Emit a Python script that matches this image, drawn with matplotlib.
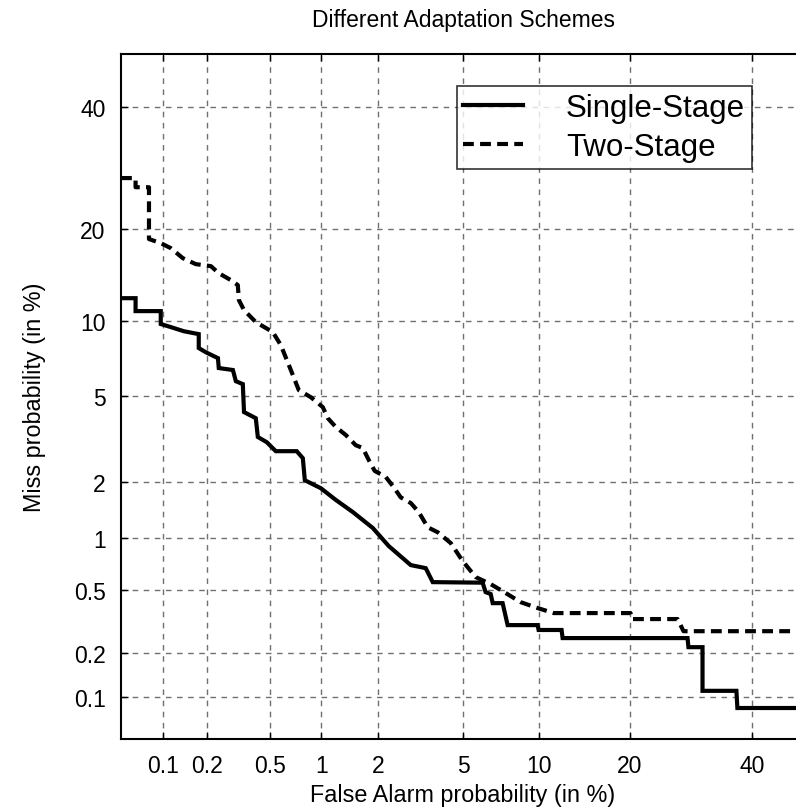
from statistics import NormalDist

import numpy as np
import matplotlib
matplotlib.use('Agg')
import matplotlib.pyplot as plt

plt.rcParams['font.family'] = ['Liberation Sans', 'DejaVu Sans']

# DET curve points, both axes in percent
single_fa = [0.05, 0.064, 0.064, 0.097, 0.097, 0.114, 0.140, 0.177, 0.177, 0.197,
             0.237, 0.240, 0.296, 0.309, 0.342, 0.348, 0.412, 0.424, 0.481, 0.545,
             0.724, 0.785, 0.806, 0.992, 1.199, 1.479, 1.879, 2.263, 2.895, 3.403,
             3.666, 6.047, 6.22, 6.526, 6.65, 7.289, 7.628, 9.92, 10.0, 12.08,
             12.18, 28.6, 28.75, 31.1, 31.1, 37.07, 37.25, 50]
single_miss = [12.04, 12.04, 10.84, 10.84, 9.73, 9.48, 9.15, 8.92, 7.89, 7.60,
               7.20, 6.57, 6.45, 5.80, 5.64, 4.27, 4.01, 3.29, 3.11, 2.82,
               2.82, 2.61, 2.03, 1.85, 1.61, 1.39, 1.14, 0.904, 0.704, 0.676,
               0.559, 0.555, 0.487, 0.474, 0.417, 0.417, 0.304, 0.304, 0.283, 0.283,
               0.251, 0.251, 0.219, 0.219, 0.111, 0.111, 0.084, 0.084]

two_fa = [0.05, 0.064, 0.064, 0.080, 0.080, 0.097, 0.114, 0.138, 0.169, 0.213,
          0.240, 0.287, 0.318, 0.323, 0.348, 0.412, 0.523, 0.584, 0.669, 0.744,
          0.872, 1.018, 1.085, 1.199, 1.359, 1.534, 1.669, 1.795, 1.923, 2.185,
          2.394, 2.589, 2.895, 3.156, 3.477, 3.861, 4.418, 4.979, 5.657, 6.526,
          7.49, 8.564, 9.92, 11.33, 20.06, 20.2, 26.99, 27.95, 50]
two_miss = [27.56, 27.56, 26.11, 26.11, 18.70, 18.18, 17.55, 16.34, 15.64, 15.41,
            14.62, 13.87, 13.35, 11.86, 10.93, 9.89, 9.08, 8.10, 6.45, 5.32,
            4.96, 4.49, 4.01, 3.66, 3.36, 3.01, 2.92, 2.55, 2.26, 2.11,
            1.87, 1.66, 1.55, 1.39, 1.15, 1.08, 0.94, 0.743, 0.599, 0.544,
            0.481, 0.423, 0.389, 0.362, 0.362, 0.332, 0.332, 0.278, 0.278]

ticks = [0.1, 0.2, 0.5, 1, 2, 5, 10, 20, 40]
tick_labels = ['0.1', '0.2', '0.5', '1', '2', '5', '10', '20', '40']

nd = NormalDist()


def probit(p):
    p = np.asarray(p, dtype=float)
    q = np.clip(p / 100.0, 1e-12, 1 - 1e-12)
    out = [nd.inv_cdf(v) if np.isfinite(v) else np.nan for v in q.ravel()]
    return np.array(out).reshape(p.shape)


def inv_probit(z):
    z = np.asarray(z, dtype=float)
    out = [nd.cdf(v) * 100.0 if np.isfinite(v) else np.nan for v in z.ravel()]
    return np.array(out).reshape(z.shape)


fig = plt.figure(figsize=(7.96, 8.12), dpi=100)
ax = fig.add_axes([121 / 796, 72 / 812, 684 / 796, 685 / 812])
ax.set_xscale('function', functions=(probit, inv_probit))
ax.set_yscale('function', functions=(probit, inv_probit))

ax.plot(single_fa, single_miss, color='black', lw=3.0, label='Single-Stage',
        solid_joinstyle='miter')
ax.plot(two_fa, two_miss, color='black', lw=3.0, dashes=(2.6, 1.5),
        label='Two-Stage')

ax.set_xlim(0.05, 50)
ax.set_ylim(0.05, 50)
ax.set_xticks(ticks)
ax.set_xticklabels(tick_labels)
ax.set_yticks(ticks)
ax.set_yticklabels(tick_labels)
ax.minorticks_off()

ax.grid(True, color='#707070', lw=1.0, linestyle=(0, (4, 4)))
ax.tick_params(direction='in', length=5, width=1, top=True, right=True,
               labelsize=16.5, pad=11)
for s in ax.spines.values():
    s.set_linewidth(1.5)

ax.set_xlabel('False Alarm probability (in %)', fontsize=16.8, labelpad=4)
ax.set_ylabel('Miss probability (in %)', fontsize=16.8, labelpad=20)
ax.set_title('Different Adaptation Schemes', fontsize=16.5, pad=20)

leg = ax.legend(loc='upper right', bbox_to_anchor=(0.9225, 0.953),
                borderaxespad=0, fontsize=22.5, frameon=True, fancybox=False,
                handlelength=1.9, labelspacing=0.28, borderpad=0.22,
                handletextpad=1.38)
leg.get_frame().set_edgecolor('black')
leg.get_frame().set_linewidth(1.2)

fig.savefig('out.png', dpi=100)
